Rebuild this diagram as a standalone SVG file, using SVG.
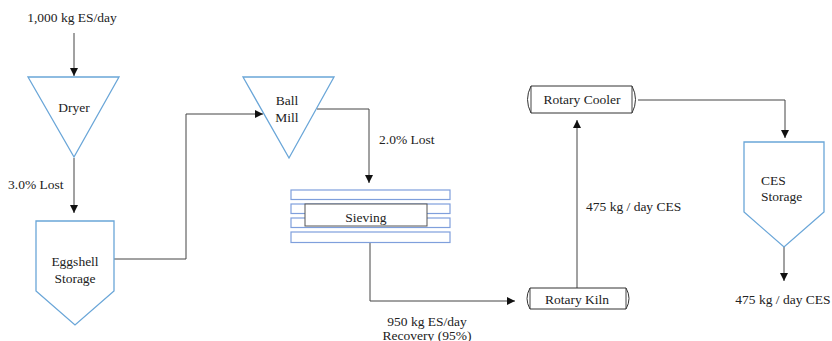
<svg xmlns="http://www.w3.org/2000/svg" width="832" height="341" viewBox="0 0 832 341">
  <style>
    .t { font-family: "Liberation Serif", "Times New Roman", "DejaVu Serif", serif; font-size: 13.5px; fill: #222; }
    .node { fill: #fff; stroke: #6aa6d8; stroke-width: 1.3; }
    .sieve { fill: #fff; stroke: #7f9fdc; stroke-width: 1.2; }
    .vessel { fill: #fff; stroke: #333; stroke-width: 1; }
    .edge { fill: none; stroke: #444; stroke-width: 1; }
  </style>
  <defs>
    <marker id="arrow" viewBox="0 0 10 10" refX="10" refY="5" markerWidth="8" markerHeight="8" markerUnits="userSpaceOnUse" orient="auto">
      <path d="M0,0 L10,5 L0,10 z" fill="#111"/>
    </marker>
  </defs>

  <rect width="832" height="341" fill="#fff"/>

  <!-- connectors -->
  <g id="connectors">
    <path class="edge" d="M74,33 V76" marker-end="url(#arrow)"/>
    <path class="edge" d="M74,158 V213" marker-end="url(#arrow)"/>
    <path class="edge" d="M114,259 H186 V114 H263" marker-end="url(#arrow)"/>
    <path class="edge" d="M317,109 H369 V183" marker-end="url(#arrow)"/>
    <path class="edge" d="M370,243 V301 H515" marker-end="url(#arrow)"/>
    <path class="edge" d="M577,288 V120" marker-end="url(#arrow)"/>
    <path class="edge" d="M638,100 H785 V138" marker-end="url(#arrow)"/>
    <path class="edge" d="M784,247 V281" marker-end="url(#arrow)"/>
  </g>

  <!-- stream labels -->
  <g id="labels">
    <text class="t" x="72" y="22" text-anchor="middle">1,000 kg ES/day</text>
    <text class="t" x="8" y="189">3.0% Lost</text>
    <text class="t" x="379" y="144">2.0% Lost</text>
    <text class="t" x="427" y="326" text-anchor="middle">950 kg ES/day</text>
    <text class="t" x="427" y="340" text-anchor="middle">Recovery (95%)</text>
    <text class="t" x="586" y="211">475 kg / day CES</text>
    <text class="t" x="783" y="304" text-anchor="middle">475 kg / day CES</text>
  </g>

  <g id="dryer">
    <polygon class="node" points="28,77 119,77 74,157"/>
    <text class="t" x="74" y="112" text-anchor="middle">Dryer</text>
  </g>

  <g id="eggshell-storage">
    <polygon class="node" points="36,221 114,221 114,291 75,325 36,291"/>
    <text class="t" x="75" y="266" text-anchor="middle">Eggshell</text>
    <text class="t" x="75" y="283" text-anchor="middle">Storage</text>
  </g>

  <g id="ball-mill">
    <polygon class="node" points="243,77 334,77 289,158"/>
    <text class="t" x="287" y="105" text-anchor="middle">Ball</text>
    <text class="t" x="287" y="122" text-anchor="middle">Mill</text>
  </g>

  <g id="sieving">
    <rect class="sieve" x="291" y="190" width="159" height="9.5"/>
    <rect class="sieve" x="291" y="204" width="159" height="9.5"/>
    <rect class="sieve" x="291" y="218" width="159" height="9.5"/>
    <rect class="sieve" x="291" y="232" width="159" height="10.5"/>
    <rect x="305" y="204" width="122" height="22" fill="#fff" stroke="#555" stroke-width="1"/>
    <text class="t" x="366" y="222" text-anchor="middle">Sieving</text>
  </g>

  <g id="rotary-kiln">
    <path class="vessel" d="M530,288 H626 Q632,298.5 626,309 H530 Q524,298.5 530,288 Z"/>
    <path class="edge" d="M530,288 V309 M626,288 V309" stroke="#333"/>
    <text class="t" x="577" y="304" text-anchor="middle">Rotary Kiln</text>
  </g>

  <g id="rotary-cooler">
    <path class="vessel" d="M531,86 H632 Q639,99.5 632,113 H531 Q524,99.5 531,86 Z"/>
    <path class="edge" d="M531,86 V113 M632,86 V113" stroke="#333"/>
    <text class="t" x="582" y="104" text-anchor="middle">Rotary Cooler</text>
  </g>

  <g id="ces-storage">
    <polygon class="node" points="744,142 824,142 824,212 784,247 744,212"/>
    <text class="t" x="761" y="185">CES</text>
    <text class="t" x="761" y="201">Storage</text>
  </g>
</svg>
